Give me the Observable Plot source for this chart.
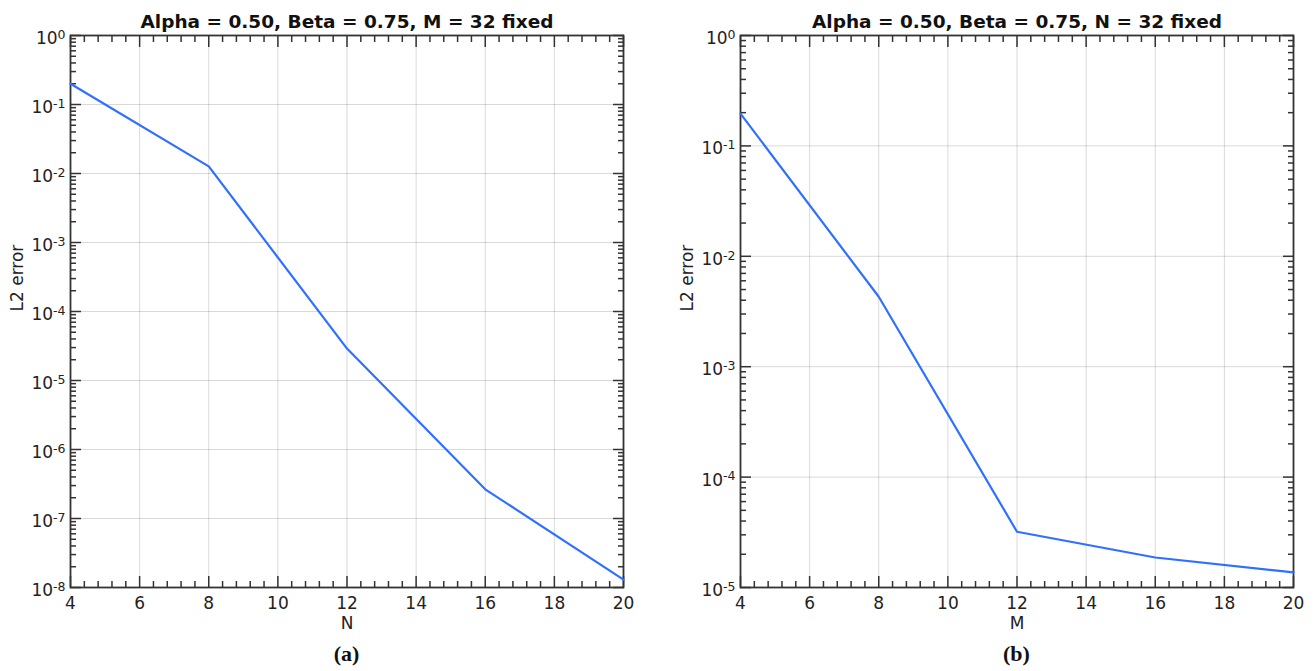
<!DOCTYPE html>
<html>
<head>
<meta charset="utf-8">
<script src="https://cdn.jsdelivr.net/npm/d3@7"></script>
<script src="https://cdn.jsdelivr.net/npm/@observablehq/plot@0.6"></script>
<style>
  body { margin: 0; background: #fff; font-family: "DejaVu Sans", sans-serif; }
  #wrap { display: flex; width: 1316px; }
  .panel { width: 658px; }
  .cap { font-family: "Liberation Serif", "Times New Roman", serif; font-weight: bold; font-size: 22px; text-align: center; line-height: 38px; color: #111; }
</style>
</head>
<body>
<div id="wrap"></div>
<script>
// ---- data ----
const titleA = "Alpha = 0.50, Beta = 0.75, M = 32 fixed";
const titleB = "Alpha = 0.50, Beta = 0.75, N = 32 fixed";
const xLabelA = "N";
const xLabelB = "M";
const yLabel = "L2 error";
const captionA = "(a)";
const captionB = "(b)";

const N = [4, 8, 12, 16, 20];
const errN = [0.20, 0.0127, 2.9e-5, 2.65e-7, 1.3e-8];

const M = [4, 8, 12, 16, 20];
const errM = [0.196, 4.3e-3, 3.2e-5, 1.87e-5, 1.37e-5];

const xTicks = [4, 6, 8, 10, 12, 14, 16, 18, 20];
const yTicksA = [1e-8, 1e-7, 1e-6, 1e-5, 1e-4, 1e-3, 1e-2, 1e-1, 1];
const yTicksB = [1e-5, 1e-4, 1e-3, 1e-2, 1e-1, 1];

const lineColor = "#2f70ff";
const axisColor = "#333";

function panel({xs, ys, yTicks, title, xLabel, caption, marginLeft, marginRight, yLabelDx}) {
  const W = 658, H = 635, mt = 35, mb = 48;
  const xDomain = [xTicks[0], xTicks[xTicks.length - 1]];
  const yDomain = [yTicks[0], yTicks[yTicks.length - 1]];
  const xMinor = d3.range(xDomain[0], xDomain[1] + 1e-9, 0.4).filter(v => Math.abs(v / 2 - Math.round(v / 2)) > 1e-6);
  const yMinor = yTicks.slice(0, -1).flatMap(d => [2,3,4,5,6,7,8,9].map(k => d * k));
  const data = xs.map((x, i) => ({x, y: ys[i]}));
  const fmt = d => "10^" + Math.round(Math.log10(d));
  const svg = Plot.plot({
    width: W, height: H,
    marginLeft, marginRight, marginTop: mt, marginBottom: mb,
    style: {fontFamily: "DejaVu Sans, sans-serif", fontSize: "17px", background: "white", color: "#222"},
    x: {domain: xDomain},
    y: {type: "log", domain: yDomain},
    marks: [
      Plot.gridX(xTicks, {stroke: "#000", strokeOpacity: 0.15, strokeWidth: 1}),
      Plot.gridY(yTicks, {stroke: "#000", strokeOpacity: 0.15, strokeWidth: 1}),
      // labels
      Plot.axisX(xTicks, {anchor: "bottom", tickSize: 0, tickPadding: 9, tickFormat: d => String(d), label: null, fontSize: 17, fill: "#222"}),
      Plot.axisY(yTicks, {anchor: "left", tickSize: 0, tickPadding: 5, tickFormat: fmt, label: null, fontSize: 17, fill: "#222", dy: 3}),
      // inward ticks
      Plot.axisX(xTicks, {anchor: "bottom", tickSize: -11, tickFormat: () => "", label: null, stroke: axisColor, strokeWidth: 1.5}),
      Plot.axisX(xMinor, {anchor: "bottom", tickSize: -6, tickFormat: () => "", label: null, stroke: axisColor, strokeWidth: 1.5}),
      Plot.axisX(xTicks, {anchor: "top", tickSize: -11, tickFormat: () => "", label: null, stroke: axisColor, strokeWidth: 1.5}),
      Plot.axisX(xMinor, {anchor: "top", tickSize: -6, tickFormat: () => "", label: null, stroke: axisColor, strokeWidth: 1.5}),
      Plot.axisY(yTicks, {anchor: "left", tickSize: -11, tickFormat: () => "", label: null, stroke: axisColor, strokeWidth: 1.5}),
      Plot.axisY(yMinor, {anchor: "left", tickSize: -6, tickFormat: () => "", label: null, stroke: axisColor, strokeWidth: 1.5}),
      Plot.axisY(yTicks, {anchor: "right", tickSize: -11, tickFormat: () => "", label: null, stroke: axisColor, strokeWidth: 1.5}),
      Plot.axisY(yMinor, {anchor: "right", tickSize: -6, tickFormat: () => "", label: null, stroke: axisColor, strokeWidth: 1.5}),
      Plot.frame({stroke: axisColor, strokeWidth: 1.8}),
      Plot.line(data, {x: "x", y: "y", stroke: lineColor, strokeWidth: 2.2}),
      // title & axis labels
      Plot.text([title], {frameAnchor: "top", lineAnchor: "bottom", dy: -8, fontWeight: "bold", fontSize: 18.5, fill: "#111"}),
      Plot.text([xLabel], {frameAnchor: "bottom", lineAnchor: "middle", dy: 36, fontSize: 17, fill: "#222"}),
      Plot.text([yLabel], {frameAnchor: "left", rotate: -90, dx: yLabelDx, fontSize: 17, fill: "#222"})
    ]
  });
  // make sure tick labels use the intended size
  d3.select(svg).selectAll("g[aria-label]").filter(function() {
    return /tick label/.test(this.getAttribute("aria-label"));
  }).selectAll("text").style("font-size", "17px");
  // superscript exponents
  d3.select(svg).selectAll("g[aria-label]").filter(function() {
    return /y-axis tick label/.test(this.getAttribute("aria-label"));
  }).selectAll("text").each(function() {
    const t = d3.select(this);
    const s = t.text();
    if (s.indexOf("^") < 0) return;
    const [b, e] = s.split("^");
    t.text(b);
    t.append("tspan").attr("dy", "-0.42em").style("font-size", "12.5px").text(e);
  });
  const div = document.createElement("div");
  div.className = "panel";
  div.appendChild(svg);
  const cap = document.createElement("div");
  cap.className = "cap";
  cap.style.marginLeft = marginLeft + "px";
  cap.style.width = (W - marginLeft - marginRight) + "px";
  cap.textContent = caption;
  div.appendChild(cap);
  return div;
}

const wrap = document.getElementById("wrap");
wrap.appendChild(panel({xs: N, ys: errN, yTicks: yTicksA, title: titleA, xLabel: xLabelA, caption: captionA, marginLeft: 70, marginRight: 35, yLabelDx: -53}));
wrap.appendChild(panel({xs: M, ys: errM, yTicks: yTicksB, title: titleB, xLabel: xLabelB, caption: captionB, marginLeft: 82, marginRight: 23, yLabelDx: -53}));
</script>
</body>
</html>
